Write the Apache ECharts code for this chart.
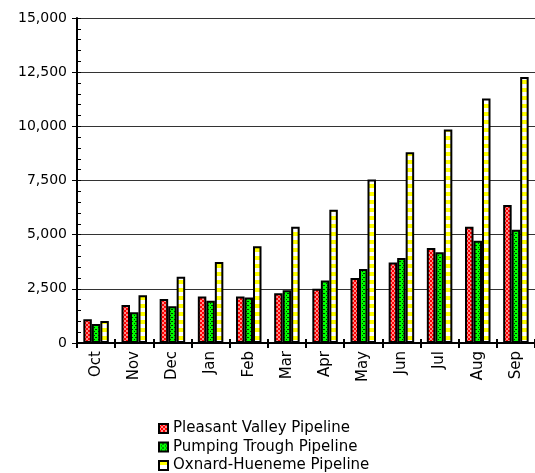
<!DOCTYPE html>
<html>
<head>
<meta charset="utf-8">
<script src="https://cdn.jsdelivr.net/npm/echarts@6/dist/echarts.min.js"></script>
<style>
html,body{margin:0;padding:0;background:#fff;}
#chart{width:535px;height:473px;}
</style>
</head>
<body>
<div id="chart"></div>
<script>
const categories = ['Oct','Nov','Dec','Jan','Feb','Mar','Apr','May','Jun','Jul','Aug','Sep'];
const pleasantValley = [1100,1750,2030,2150,2150,2300,2500,3000,3720,4390,5370,6370];
const pumpingTrough  = [880,1420,1700,1950,2100,2430,2890,3420,3920,4190,4720,5230];
const oxnardHueneme  = [1020,2200,3060,3740,4460,5370,6150,7550,8800,9850,11290,12280];
const seriesNames = ['Pleasant Valley Pipeline','Pumping Trough Pipeline','Oxnard-Hueneme Pipeline'];
const yMin = 0, yMax = 15000, yInterval = 2500, yMinorInterval = 500;

function makePattern(w, h, draw) {
  const c = document.createElement('canvas');
  c.width = w; c.height = h;
  const ctx = c.getContext('2d');
  draw(ctx);
  return { image: c, repeat: 'repeat' };
}
const redPattern = makePattern(4, 4, ctx => {
  ctx.fillStyle = '#ff0000'; ctx.fillRect(0,0,4,4);
  ctx.fillStyle = '#ff8c8c'; ctx.fillRect(0,0,2,2); ctx.fillRect(2,2,2,2);
});
const greenPattern = makePattern(4, 4, ctx => {
  ctx.fillStyle = '#00ff00'; ctx.fillRect(0,0,4,4);
  ctx.fillStyle = '#003300'; ctx.fillRect(0,1,1,1); ctx.fillRect(2,3,1,1);
  ctx.fillRect(3,1,1,1);
});
const yellowPattern = makePattern(8, 8, ctx => {
  ctx.fillStyle = '#ffffff'; ctx.fillRect(0,0,8,8);
  ctx.fillStyle = '#ffff00'; ctx.fillRect(0,0,8,4);
});
const patterns = [redPattern, greenPattern, yellowPattern];
const values = [pleasantValley, pumpingTrough, oxnardHueneme];

const FONT = 'DejaVu Sans';
const chart = echarts.init(document.getElementById('chart'), null, {renderer: 'canvas'});
chart.setOption({
  animation: false,
  backgroundColor: '#ffffff',
  grid: { left: 77, right: 0, top: 18, bottom: 130, containLabel: false },
  legend: {
    orient: 'vertical', left: 158, top: 421,
    itemWidth: 9, itemHeight: 9, itemGap: 3.5, padding: 0,
    icon: 'rect',
    textStyle: { fontFamily: FONT, fontSize: 15, color: '#000' },
    data: seriesNames
  },
  xAxis: [{
    type: 'category', data: categories, position: 'bottom',
    axisLine: { lineStyle: { color: '#000', width: 2 } },
    axisTick: { show: true, length: 5, lineStyle: { color: '#000', width: 2 } },
    axisLabel: { rotate: 90, fontFamily: FONT, fontSize: 15, color: '#000', margin: 8 },
    splitLine: { show: false }
  }, {
    type: 'category', data: categories, position: 'bottom',
    axisLine: { show: false },
    axisTick: { show: true, inside: true, length: 4, lineStyle: { color: '#000', width: 2 } },
    axisLabel: { show: false },
    splitLine: { show: false }
  }],
  yAxis: [{
    type: 'value', min: yMin, max: yMax, interval: yInterval, position: 'left',
    axisLine: { show: true, lineStyle: { color: '#000', width: 2 } },
    axisTick: { show: true, length: 5, lineStyle: { color: '#000', width: 1 } },
    axisLabel: { fontFamily: FONT, fontSize: 14, color: '#000', margin: 10,
      formatter: v => v.toLocaleString('en-US') },
    splitLine: { show: true, lineStyle: { color: '#333', width: 1 } }
  }, {
    type: 'value', min: yMin, max: yMax, interval: yMinorInterval, position: 'left',
    axisLine: { show: false },
    axisTick: { show: true, inside: true, length: 4, lineStyle: { color: '#000', width: 1 } },
    axisLabel: { show: false },
    splitLine: { show: false }
  }],
  series: seriesNames.map((name, i) => ({
    name, type: 'bar', xAxisIndex: 0, yAxisIndex: 0,
    data: values[i],
    barWidth: 8.5, barGap: '0%',
    itemStyle: { color: patterns[i], borderColor: '#000', borderWidth: 2 }
  }))
});
</script>
</body>
</html>
